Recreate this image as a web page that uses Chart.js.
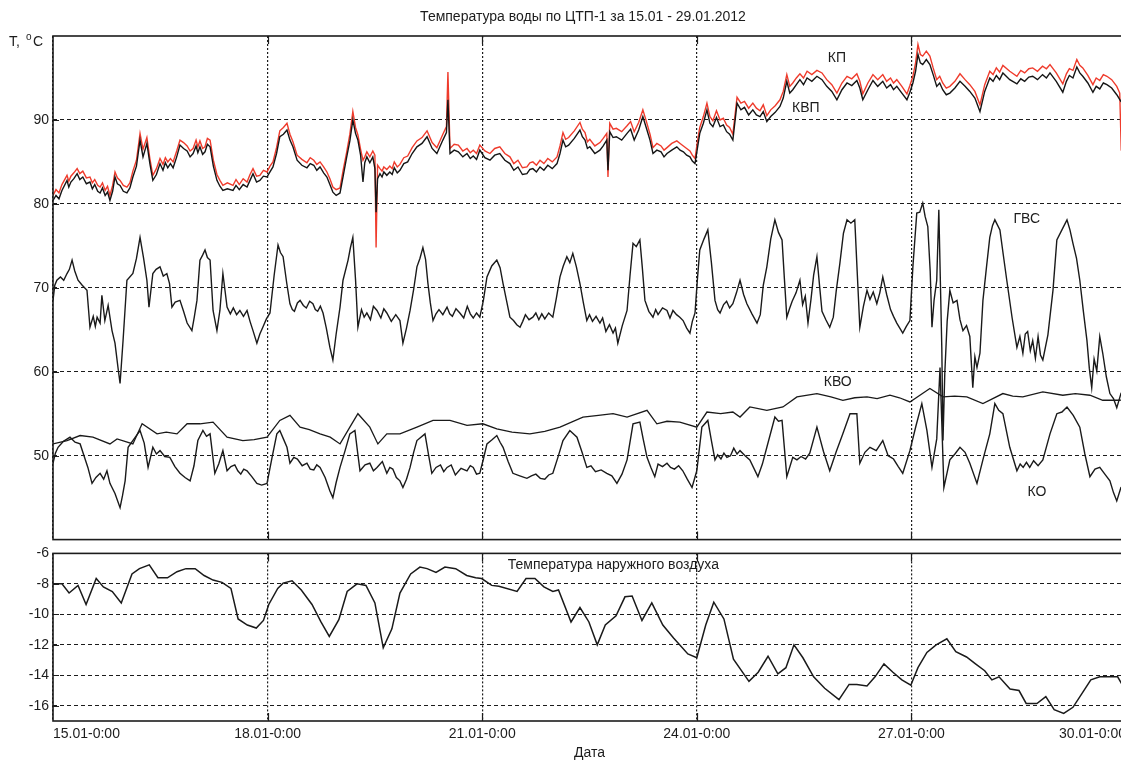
<!DOCTYPE html>
<html>
<head>
<meta charset="utf-8">
<script src="https://cdn.jsdelivr.net/npm/chart.js@4.4.0/dist/chart.umd.min.js"></script>
<style>
html, body { margin: 0; padding: 0; background: #fff; overflow: hidden; width: 1121px; height: 762px; }
#topChart { position: absolute; left: 0; top: 0; }
#airChart { position: absolute; left: 0; top: 541px; }
</style>
</head>
<body>
<canvas id="topChart" width="1140" height="552"></canvas>
<canvas id="airChart" width="1140" height="221"></canvas>
<script>
// Hours since 15.01 0:00, x axis 0..360
const dayTicks = [0, 72, 144, 216, 288, 360];
const dayLabels = ['15.01-0:00', '18.01-0:00', '21.01-0:00', '24.01-0:00', '27.01-0:00', '30.01-0:00'];
const waterTicks = [50, 60, 70, 80, 90];
const airTicks = [-16, -14, -12, -10, -8, -6];

// КВП (black, upper pair)
const kvpHours = [0,1,2,3,4.7,5.3,6,7,8.1,9,10,11.2,12.4,13.2,14,15,15.8,16.6,17.5,18.3,19.1,20,20.8,21.6,22.5,23.6,24.8,25.8,26.8,28,29.2,30.2,31.5,32.5,33.5,34.7,35.9,36.9,37.7,38.5,39.4,40.3,41.5,42.6,43.8,45,46,47,48,48.6,49.3,50.2,51,51.8,52.7,53.8,55,56,57,58.5,60.4,61.4,62.5,63.8,65.1,66.1,67.1,68.3,69.4,70.6,71.8,72.8,73.8,75,76.1,77.3,78.5,79.5,80.5,81.9,83.5,85.2,86.3,87.5,88.5,89.6,90.8,91.9,92.9,93.9,95,96.3,97.4,98.5,99.6,100.6,101.5,102.3,103.2,104,104.6,105.3,106.3,107.3,108,108.4,108.9,109.7,110.4,111,112,113,113.8,114.5,115.5,
  116.4,117.7,119,120.5,122.1,123.8,125.5,127.2,128.8,129.8,130.8,132,132.5,133.2,134.6,136,137.5,138.9,140,141,142.1,143.2,144.9,146.6,148.2,149.9,151.6,153.3,154.6,156,157.5,159,160,161,162.2,163.4,164.7,166,167.5,169.1,170.1,171.1,172,173,174.9,176.8,177.6,178.5,179.3,180.1,181.8,183.5,184.6,185.8,186.2,186.8,187.9,189,190.8,192.6,193.8,195,196.5,197.9,199.1,200.3,201.3,202.6,204,205,206,207.6,209.3,210.4,211.5,212.6,213.7,214.5,215.4,216.2,217,218.2,219.4,220.4,221.4,222.6,223.8,224.9,226,227,228.1,229.5,230.8,232,233.4,234.8,236,237.2,238.3,239.5,240.8,242.3,243.9,245,246.2,247.2,248.2,249.4,250.6,251.8,
  253,254.6,256.3,258,259.6,261.3,263,264.7,266.4,268,269.7,270.7,271.7,273.4,275.1,276.7,278.4,279.7,281,282,283.1,284.8,286.5,287.5,288.5,289.4,290.2,291,291.8,293,294.2,295.3,296.5,297.5,298.5,299.7,300.9,302.6,304.3,306,307.6,309.3,311,312.6,314.3,315.4,316.5,317.6,318.7,321,323.4,324.7,326,327.4,328.7,330.3,332,333.3,334.5,336.6,338.8,340,341,342.2,343.5,344.5,345.5,347.2,348.9,350,351.2,352.4,353.6,355.2,356.9,358.3,360];
const kvpValues = [80.4,81.0,80.6,81.6,82.8,82.0,82.6,83.0,83.6,82.9,83.2,82.4,82.6,81.8,82.3,81.5,81.3,81.9,81.0,81.4,80.4,81.5,83.2,82.4,82.2,81.5,81.3,81.9,83.2,84.5,87.6,85.6,87.2,84.8,82.8,83.5,84.8,84.0,84.9,84.3,84.8,84.3,85.6,87.0,86.6,86.3,85.6,86.0,86.9,86.1,86.8,85.9,86.2,87.1,86.8,84.5,82.8,82.1,81.6,81.8,81.6,82.2,81.7,82.3,82.0,82.8,83.6,82.6,82.8,83.3,83.2,83.8,84.4,86.0,88.0,88.3,88.8,87.6,86.8,85.2,84.6,84.3,84.8,84.6,84.0,84.4,83.7,83.2,82.3,81.4,81.0,81.3,83.4,85.5,87.5,90.0,88.4,87.6,85.8,82.6,84.9,85.6,84.9,85.6,84.2,79.0,83.0,83.6,83.2,83.8,83.4,83.8,83.5,84.3,83.7,
  84.0,84.8,85.0,86.0,86.8,87.2,88.0,86.6,86.0,86.8,87.6,88.5,92.4,86.0,86.4,86.2,85.6,86.0,85.4,85.7,85.3,86.4,85.5,85.2,85.8,86.0,85.2,84.8,84.0,84.4,83.5,83.6,84.1,84.2,83.8,84.4,84.0,84.6,84.2,84.8,86.0,87.6,86.8,87.0,87.8,88.8,88.0,87.6,86.6,86.8,86.0,86.4,86.9,87.6,84.0,88.6,87.9,88.0,87.6,88.4,88.9,87.6,88.8,90.4,89.0,87.6,86.0,86.4,86.2,85.6,86.0,86.4,86.8,86.4,86.2,85.8,85.6,85.1,84.8,86.6,88.4,89.6,91.2,89.6,89.2,90.3,89.2,89.4,88.6,88.3,87.6,92.0,91.2,91.5,90.6,91.2,90.6,90.4,91.0,89.8,90.4,90.9,91.6,92.6,94.6,93.2,93.6,94.2,94.8,94.2,
  95.0,94.6,95.2,94.8,94.0,93.4,92.4,93.6,94.4,94.1,94.7,93.8,92.4,93.6,94.7,94.0,94.6,93.8,94.2,93.6,94.0,93.2,92.4,93.3,94.4,95.8,97.8,96.8,96.6,97.2,96.6,95.4,94.0,94.4,93.6,93.0,93.2,93.8,94.6,94.0,93.4,92.6,91.0,93.4,95.0,94.6,95.3,94.8,95.6,94.8,94.3,94.9,94.6,95.1,95.2,94.8,95.4,95.0,95.6,94.6,93.3,94.6,95.3,95.0,96.3,95.6,95.2,94.4,93.3,94.0,93.7,94.4,94.2,93.8,93.0,92.2,91.8];

// КП (red)
const kpHours = [0,1,2,3,4.7,5.3,6,7,8.1,9,10,11.2,12.4,13.2,14,15,15.8,16.6,17.5,18.3,19.1,20,20.8,21.6,22.5,23.6,24.8,25.8,26.8,28,29.2,30.2,31.5,32.5,33.5,34.7,35.9,36.9,37.7,38.5,39.4,40.3,41.5,42.6,43.8,45,46,47,48,48.6,49.3,50.2,51,51.8,52.7,53.8,55,56,57,58.5,60.4,61.4,62.5,63.8,65.1,66.1,67.1,68.3,69.4,70.6,71.8,72.8,73.8,75,76.1,77.3,78.5,79.5,80.5,81.9,83.5,85.2,86.3,87.5,88.5,89.6,90.8,91.9,92.9,93.9,95,96.3,97.4,98.5,99.6,100.6,101.5,102.3,103.2,104,104.6,105.3,106.3,107.3,108,108.4,108.9,109.7,110.4,111,112,113,113.8,114.5,115.5,
  116.4,117.7,119,120.5,122.1,123.8,125.5,127.2,128.8,129.8,130.8,132,132.5,133.2,134.6,136,137.5,138.9,140,141,142.1,143.2,144.9,146.6,148.2,149.9,151.6,153.3,154.6,156,157.5,159,160,161,162.2,163.4,164.7,166,167.5,169.1,170.1,171.1,172,173,174.9,176.8,177.6,178.5,179.3,180.1,181.8,183.5,184.6,185.8,186.2,186.8,187.9,189,190.8,192.6,193.8,195,196.5,197.9,199.1,200.3,201.3,202.6,204,205,206,207.6,209.3,210.4,211.5,212.6,213.7,214.5,215.4,216.2,217,218.2,219.4,220.4,221.4,222.6,223.8,224.9,226,227,228.1,229.5,230.8,232,233.4,234.8,236,237.2,238.3,239.5,240.8,242.3,243.9,245,246.2,247.2,248.2,249.4,250.6,251.8,
  253,254.6,256.3,258,259.6,261.3,263,264.7,266.4,268,269.7,270.7,271.7,273.4,275.1,276.7,278.4,279.7,281,282,283.1,284.8,286.5,287.5,288.5,289.4,290.2,291,291.8,293,294.2,295.3,296.5,297.5,298.5,299.7,300.9,302.6,304.3,306,307.6,309.3,311,312.6,314.3,315.4,316.5,317.6,318.7,321,323.4,324.7,326,327.4,328.7,330.3,332,333.3,334.5,336.6,338.8,340,341,342.2,343.5,344.5,345.5,347.2,348.9,350,351.2,352.4,353.6,355.2,356.9,357.9,358.4,360];
const kpValues = [81.0,81.7,81.3,82.3,83.4,82.7,83.3,83.7,84.2,83.6,83.9,83.1,83.2,82.5,82.9,82.2,82.0,82.5,81.6,82.1,81.0,82.2,83.8,83.1,82.8,82.2,82.0,82.5,83.9,85.2,88.4,86.5,87.9,85.4,83.4,84.2,85.4,84.7,85.5,85.0,85.4,85.0,86.3,87.6,87.3,86.9,86.3,86.6,87.6,86.8,87.5,86.6,86.8,87.8,87.6,85.2,83.5,82.8,82.2,82.5,82.2,82.9,82.3,83.0,82.6,83.5,84.2,83.3,83.4,84.0,83.8,84.5,85.0,86.7,88.7,89.1,89.6,88.3,87.4,85.8,85.3,84.9,85.5,85.2,84.7,85.0,84.4,83.8,83.0,82.0,81.7,81.9,84.1,86.1,88.3,91.0,89.1,88.2,86.5,85.2,85.6,86.2,85.6,86.3,85.8,74.8,84.6,84.2,83.9,84.4,84.1,84.5,84.2,85.0,84.4,
  84.7,85.5,85.7,86.7,87.5,87.9,88.7,87.3,86.7,87.5,88.3,89.2,95.7,86.6,87.1,87.0,86.3,86.6,86.1,86.4,86.0,87.0,86.3,86.0,86.6,86.8,86.0,85.6,84.8,85.2,84.3,84.4,84.9,85.0,84.6,85.2,84.8,85.4,85.0,85.6,86.9,88.5,87.7,87.9,88.7,89.7,88.9,88.5,87.4,87.7,86.9,87.3,87.8,88.4,83.2,89.6,88.9,89.0,88.6,89.3,89.8,88.6,89.7,91.2,89.8,88.3,86.7,87.2,86.9,86.4,86.7,87.2,87.5,87.2,86.9,86.6,86.3,85.8,85.4,87.4,89.1,90.4,92.0,90.4,89.9,91.1,90.0,90.2,89.4,89.1,88.3,92.7,92.0,92.2,91.4,92.0,91.4,91.1,91.8,90.5,91.2,91.7,92.4,93.4,95.4,94.0,94.4,95.0,95.5,95.0,
  95.8,95.4,95.9,95.6,94.8,94.2,93.2,94.4,95.2,94.9,95.5,94.6,93.1,94.4,95.4,94.8,95.4,94.6,95.0,94.4,94.8,94.0,93.1,94.1,95.2,96.8,99.0,97.8,97.6,98.2,97.6,96.2,94.8,95.2,94.4,93.8,94.0,94.6,95.5,94.8,94.2,93.4,91.8,94.2,95.8,95.4,96.2,95.7,96.5,95.8,95.2,95.9,95.6,96.1,96.2,95.8,96.4,96.1,96.6,95.6,94.3,95.5,96.1,95.9,97.2,96.5,96.2,95.3,94.2,95.0,94.7,95.4,95.2,94.8,94.0,93.2,86.4,86.0];

// ГВС
const gvsHours = [0,0.6,1.3,2.5,3.6,4.7,5.5,6.4,7.3,8.4,9.8,11.4,12.4,13.5,14.2,14.8,15.8,16.4,17.4,18.5,19.8,20.8,21.8,22.5,23.5,24.8,26.8,28,29.2,30.4,31.5,32.2,33.5,34.6,35.9,37,38.2,39.1,39.9,41,42.6,43.8,45,46.6,47.4,48.3,49.3,50.2,51,51.8,52.7,53.7,55,56,57,58.4,59.5,60.5,61.6,62.7,63.9,65.1,66.1,67.1,68.4,69.4,70.4,71.6,72.8,74.2,75.5,76.3,77.2,78.4,79.5,80.3,81,82,82.9,84,85,86.1,87.2,88,88.8,89.7,90.6,91.7,92.9,93.9,95,96.3,97.3,99,99.8,100.6,101.5,102.3,103.5,104.4,105.3,106.5,107.5,108.7,110,111,112,113.5,115,
  116.4,117.4,118.6,119.8,121,122.1,123.1,124.1,125,125.8,126.6,127.5,128.5,129.5,130.8,132.2,133.1,134,135.2,136.5,137.8,139,140,141,142.1,143.2,144.4,145.6,147.2,148.9,150,151,152.2,153.3,154.5,155.6,156.7,157.6,158.5,159.7,161,162,163,164,165,166.3,167.7,168.9,170.1,171.2,172.4,173.4,174.4,175.6,176.8,177.9,179.1,180,181,182.2,183.5,184.4,185.5,186.7,187.9,188.7,189.5,191,192.6,193.6,194.6,195.7,196.9,197.7,198.6,199.9,201.3,202.2,203,204.5,206,207,208,209.2,210.3,211.4,212.6,213.7,214.5,215.4,216.2,217,218.4,219.7,220.9,222.1,223,223.8,225,226,227,228.1,229.3,230.5,231.7,232.8,234.5,236.2,237.3,238.3,239.5,240.8,242.2,243.4,244.6,245.4,246.2,247.1,248,249.3,250.6,251.5,252.4,253.3,254.3,255.2,256.3,257.2,258,259.3,260.6,261.8,262.8,264,265.2,266.4,267.7,269,269.8,270.7,271.9,273.1,274.1,275.2,276.4,277.4,278.4,279.7,281,282,283.1,284.1,285.1,286.3,287.5,
  288.5,289.8,290.8,291.8,292.6,293.5,294.3,294.9,295.6,296.5,297.2,298.2,298.6,299.2,300,300.9,302,303.3,304.3,305.3,306.5,307.6,308.6,309.3,310,311,312,313.2,314.3,315.2,316,317.7,318.8,320,321.8,323.4,324.4,325.4,326.2,327,327.9,328.7,329.6,330.5,331.3,332.1,333.8,335.5,336.8,338.5,340.2,341.2,342.2,343.4,344.5,345.7,346.9,347.7,348.5,349.3,350.2,351.2,352.2,353.4,354.6,355.8,356.9,358.3,360];
const gvsValues = [68.5,70.3,70.9,71.3,70.9,71.7,72.2,73.3,72.0,70.9,70.3,69.7,65.3,66.6,65.4,66.5,65.8,69.1,66.1,67.9,64.9,63.4,60.5,58.6,63.7,70.9,71.7,73.5,76.0,73.5,70.9,67.7,71.7,72.2,72.5,71.4,71.7,70.5,67.7,68.3,68.5,67.2,65.8,64.9,66.5,68.5,73.3,73.9,74.5,73.6,73.3,67.3,64.9,67.3,71.7,67.7,66.9,67.6,66.8,67.3,66.6,67.3,66.0,64.9,63.4,64.5,65.3,66.3,67.0,71.5,75.1,74.2,73.7,70.6,68.1,67.4,67.2,68.2,68.5,67.9,67.6,68.4,68.1,67.4,67.2,67.8,67.0,65.2,62.9,61.4,64.5,67.7,70.9,73.3,74.8,76.0,71.0,65.3,67.4,66.5,67.0,66.2,67.8,67.3,66.4,67.5,67.0,66.0,66.8,
  66.1,63.4,65.2,67.3,69.8,72.5,73.5,74.8,73.4,70.5,68.2,66.1,66.9,67.4,66.8,67.7,66.9,66.6,67.5,67.0,66.4,67.8,66.9,66.4,67.0,66.5,68.5,71.3,72.6,73.3,72.4,70.5,68.4,66.5,66.1,65.6,65.3,66.0,66.8,66.2,66.5,67.0,66.2,66.9,66.3,67.0,66.5,68.8,71.3,72.6,73.7,73.0,74.1,72.5,70.5,68.3,66.1,66.8,66.0,66.6,65.8,66.4,64.8,65.6,64.6,65.2,63.4,65.5,67.3,71.5,75.3,74.9,75.7,72.5,68.5,67.2,66.5,67.4,66.8,67.6,67.3,66.4,67.3,66.8,66.5,66.1,65.2,64.6,66.0,67.0,71.0,74.5,75.8,76.9,73.0,68.5,67.4,67.0,68.0,68.4,67.6,68.1,69.4,70.9,69.2,68.1,66.9,65.8,66.8,70.3,72.5,75.8,78.1,76.6,75.7,71.0,66.5,67.5,68.4,69.4,70.9,68.0,69.0,65.8,68.6,71.5,73.7,70.2,67.2,66.2,65.3,66.5,69.7,72.9,76.5,78.1,77.7,78.1,72.0,65.3,67.8,69.7,68.6,69.5,68.1,69.4,71.3,69.2,67.4,66.6,65.8,65.2,64.6,65.4,66.1,
  72.5,78.9,79.0,80.1,78.5,77.3,72.0,65.3,68.5,70.9,79.3,62.9,51.8,59.8,66.0,69.7,68.2,68.5,66.2,64.9,65.5,64.2,58.1,61.8,60.5,62.2,68.5,72.5,76.0,77.4,78.1,76.9,74.0,70.9,66.4,62.9,64.2,62.2,64.5,64.8,62.5,63.7,61.6,64.2,62.0,61.4,64.4,69.7,75.7,76.9,78.1,76.9,75.3,73.5,70.9,67.2,63.7,60.4,58.1,61.5,60.1,64.2,62.2,59.4,57.4,56.8,55.7,57.4,57.0];

// КВО
const kvoHours = [0,4.7,9.1,13.4,19.1,21.5,26.8,29.9,34.9,38,41.6,45,49.3,53.7,58.4,63.7,67.5,71.8,76.1,79.5,82.9,86,89.6,93,96.3,99.6,102.3,106.3,109,112,116.4,122.1,127.5,133.2,138.9,144.2,148.9,154,160,165,170.1,177.8,183,187.9,192.6,199.3,202.6,206,210.3,216,219.4,224,228.1,230.5,233.8,239.5,244.9,249.6,256.3,261,265,269,273.1,276.5,280.8,284,287.5,294.2,298.6,302.5,306.6,312,318.7,322,325.4,332.1,338.8,343,347.9,352.2,357.9,360];
const kvoValues = [51.4,51.8,52.4,52.2,51.4,52.0,51.4,53.8,52.6,52.8,52.6,53.8,53.8,54.0,52.2,51.8,51.9,52.2,54.2,54.8,53.4,53.1,52.6,52.2,51.4,53.4,55.0,53.4,51.4,52.6,52.6,53.4,54.2,54.2,53.6,53.8,53.2,52.8,52.6,52.9,53.4,54.6,54.8,55.0,54.6,55.4,53.8,54.1,54.0,53.4,55.2,55.0,55.2,54.6,55.8,55.4,55.8,57.0,57.4,57.0,56.6,56.9,57.0,56.8,57.2,56.9,56.4,58.0,57.0,57.1,57.0,56.2,57.4,57.1,57.0,57.6,57.2,57.4,57.2,56.6,56.6,56.8];

// КО
const koHours = [0,0.8,1.7,3.5,5.7,7.4,9.1,10.4,11.7,13.1,14.4,15.8,17,18.1,19.1,20.8,22.5,23.3,24.2,25.2,27.2,29.2,30.6,31.9,33.5,34.7,35.9,37.5,39.2,40.9,42.6,44.3,46,47.3,48.6,50.3,51.5,52.7,54.3,55.6,57,58.4,59.7,61,62,63,64,65.1,66.7,68.4,70,71.8,73.5,75.1,76.1,77.3,78.5,79.5,80.8,82,83.6,85.2,86.3,87.5,88.5,89.6,91.3,92.9,93.9,95,96.3,98,99.6,101.3,102.2,103,104.7,106.3,107.5,108.7,110.5,112,113,114,115.2,
  116.4,117.4,118.6,119.8,121,122.1,124.8,126,127.1,128.5,130,131.1,132.2,133.6,135,136.9,138.9,140,141,142.1,143.2,144.4,145.6,147.3,148.9,150,151,152.7,154.3,156.6,159,160.5,162,163.5,165,166.3,167.7,169.4,171.1,173.4,175.8,177.5,179.1,180.5,182,183.9,185.8,187.5,189.2,190.9,192.6,194.6,196.9,198,199.3,200.6,201.9,203,204.5,206,207.2,208.5,209.9,211.3,212.8,214.4,216,217.7,219.7,220.9,222.1,223,224.1,225.1,226.1,227.3,228.4,229.5,230.5,232.2,233.8,236.5,238,239.5,242.2,243.4,244.6,246.2,248.2,249.6,251,252.5,253.9,256.3,258.5,260.6,262.8,265,267.4,269.7,270.7,272.4,274.1,276.2,278.4,280.2,282,283.6,285.1,
  287.5,289.5,291.5,293.2,294.9,296.5,297.6,298.9,300.9,302.6,304.3,306,307.6,310,312.2,314.3,316,317.3,318.7,321,323.4,324.5,325.5,326.6,327.7,329,330.5,332.1,334.5,336.8,338.5,340.2,342.3,344.5,346.2,347.9,349.6,351.2,352.9,354.6,355.8,356.9,358.3,360];
const koValues = [49.1,50.3,51.0,51.7,52.2,51.6,51.4,50.0,48.6,46.7,47.4,47.9,47.2,48.2,46.7,45.5,43.8,45.2,47.0,51.0,52.0,53.0,51.5,48.6,51.0,50.2,50.6,49.9,49.8,48.7,47.9,47.4,47.0,48.8,51.8,53.0,52.3,52.6,47.9,49.0,50.6,48.2,48.7,48.9,48.2,47.8,48.4,48.2,47.5,46.7,46.5,46.7,49.8,52.6,53.0,52.0,51.0,49.1,49.8,49.6,48.8,49.1,48.4,48.3,48.9,48.6,47.4,45.8,45.0,46.8,48.6,50.6,52.6,53.0,50.4,48.2,48.9,49.1,48.2,48.6,49.3,47.9,48.6,48.4,47.4,
  47.0,46.2,47.2,48.6,50.4,51.8,52.6,50.1,47.9,48.6,48.9,48.1,48.6,48.9,47.7,48.5,48.2,48.8,48.6,47.8,47.9,49.6,51.4,51.9,52.4,51.6,51.0,49.3,47.9,47.6,47.3,47.6,47.8,47.3,47.2,47.7,47.9,49.8,51.8,53.0,52.2,50.4,48.6,48.8,48.1,48.3,47.9,47.6,46.7,47.8,49.5,53.8,54.0,52.0,49.8,48.6,47.5,49.0,48.7,49.1,48.6,48.4,48.8,48.2,47.2,46.2,48.2,53.4,54.2,51.8,49.5,50.1,49.6,50.3,49.8,50.0,50.9,50.2,50.6,50.0,49.5,47.5,49.0,51.0,54.6,54.1,54.2,47.5,49.8,49.5,49.9,49.6,50.3,53.4,50.5,48.2,50.5,52.6,55.0,55.0,49.1,50.4,51.0,50.6,51.8,50.0,49.6,48.7,47.9,
  50.6,53.5,56.2,53.0,48.6,52.0,60.5,46.2,49.5,50.2,51.0,50.4,49.1,46.7,49.8,52.6,56.2,55.4,55.0,51.0,48.2,49.0,48.6,49.2,48.6,49.4,48.8,49.5,52.6,55.0,55.2,55.8,54.8,53.4,50.2,47.5,48.4,48.6,47.8,47.0,45.6,44.6,46.2,46.5];

// Outdoor air temperature
const airHours = [0,3,5.4,8.4,11.1,14.5,16.9,19.9,22.9,26.5,29,32.3,35.2,38.4,41.6,44.6,47.7,50.7,53.7,56.7,59.7,62.1,65.2,68.2,70.6,72.4,75.4,77.2,80.2,83.3,86.9,89.9,92.7,95.9,98.7,102,105,108,110.8,113.7,116.4,120,123.1,125.5,128.5,131.5,135.1,138.8,141.8,143.8,147.2,149.6,155.7,158.7,161.7,164.7,167.7,169.6,
  173.8,176.8,179.8,182.6,185.3,188.9,191.9,194.3,197.6,200.9,204.6,208.2,213,216,219,221.7,225.1,228.3,233.5,236.6,239.9,243.2,245.9,248.6,251.6,255.2,258.9,263.7,267.1,269.7,273.1,275.8,278.8,281.8,284.8,287.8,290.2,293.2,296.3,299.9,302.9,306.5,309.5,312.6,315,317.4,321.1,324.1,326.5,330.1,333.1,335.9,339.1,342.2,345.2,348.2,351.2,354.2,357.2,358.8,360];
const airValues = [-8.0,-8.0,-8.6,-8.1,-9.35,-7.65,-8.2,-8.5,-9.25,-7.35,-7.0,-6.75,-7.6,-7.6,-7.2,-7.0,-7.0,-7.45,-7.75,-7.9,-8.3,-10.3,-10.7,-10.9,-10.4,-9.35,-8.3,-7.95,-7.8,-8.4,-9.35,-10.5,-11.45,-10.35,-8.5,-8.0,-8.1,-9.25,-12.2,-10.95,-8.6,-7.35,-6.9,-7.0,-7.25,-6.9,-7.0,-7.45,-7.6,-7.65,-8.1,-8.15,-8.5,-7.65,-7.65,-8.2,-8.5,-8.4,
  -10.5,-9.55,-10.5,-12.0,-10.7,-10.1,-8.85,-8.8,-10.4,-9.25,-10.7,-11.55,-12.6,-12.85,-10.7,-9.2,-10.3,-12.95,-14.4,-13.8,-12.75,-13.9,-13.5,-12.0,-12.85,-14.1,-14.85,-15.6,-14.6,-14.6,-14.7,-14.1,-13.25,-13.8,-14.3,-14.65,-13.5,-12.5,-12.0,-11.6,-12.45,-12.8,-13.25,-13.7,-14.3,-14.1,-14.9,-15.0,-15.85,-15.85,-15.4,-16.25,-16.5,-16.1,-15.2,-14.3,-14.1,-14.1,-14.1,-14.65,-14.7];

const FONT = "'Liberation Sans', Arial, sans-serif";
const INK = '#1c1c1c';

function toPoints(hours, values) {
    return hours.map((h, i) => ({ x: h, y: values[i] }));
}

function lineSet(label, hours, values, color, width, order) {
    return {
        label: label,
        data: toPoints(hours, values),
        borderColor: color,
        borderWidth: width,
        pointRadius: 0,
        tension: 0,
        fill: false,
        order: order
    };
}

// frame, inward tick marks and in-plot texts
const decorPlugin = {
    id: 'decor',
    afterDatasetsDraw(chart, args, opts) {
        const ctx = chart.ctx;
        const a = chart.chartArea;
        const xs = chart.scales.x;
        const ys = chart.scales.y;
        ctx.save();
        ctx.strokeStyle = INK;
        ctx.lineWidth = 1.2;
        ctx.setLineDash([]);
        ctx.beginPath();
        dayTicks.slice(1, -1).forEach(t => {
            const px = Math.round(xs.getPixelForValue(t)) + 0.5;
            ctx.moveTo(px, a.bottom); ctx.lineTo(px, a.bottom - 8);
            ctx.moveTo(px, a.top); ctx.lineTo(px, a.top + 8);
        });
        opts.yTicks.forEach(t => {
            const py = Math.round(ys.getPixelForValue(t)) + 0.5;
            ctx.moveTo(a.left, py); ctx.lineTo(a.left + 6, py);
        });
        ctx.stroke();
        ctx.lineWidth = 1.6;
        ctx.strokeRect(a.left, a.top, a.right - a.left, a.bottom - a.top);

        ctx.fillStyle = INK;
        ctx.textAlign = 'center';
        ctx.textBaseline = 'middle';
        ctx.font = '14px ' + FONT;
        (opts.notes || []).forEach(n => {
            ctx.fillText(n.text, xs.getPixelForValue(n.h), ys.getPixelForValue(n.v));
        });
        ctx.restore();
    },
    afterDraw(chart, args, opts) {
        if (!opts.title) return;
        const ctx = chart.ctx;
        ctx.save();
        ctx.fillStyle = INK;
        ctx.textBaseline = 'middle';
        ctx.textAlign = 'center';
        ctx.font = '14px ' + FONT;
        ctx.fillText(opts.title, 583, 17);
        // axis unit "T, °C" with raised o
        ctx.textAlign = 'left';
        ctx.textBaseline = 'alphabetic';
        ctx.font = '14px ' + FONT;
        ctx.fillText('T,', 9, 46);
        ctx.font = '10px ' + FONT;
        ctx.fillText('o', 26, 40);
        ctx.font = '14px ' + FONT;
        ctx.fillText('C', 33, 46);
        ctx.restore();
    }
};

function xScale(showLabels) {
    return {
        type: 'linear',
        min: 0,
        max: 360,
        afterBuildTicks: s => { s.ticks = dayTicks.map(v => ({ value: v })); },
        grid: { color: INK, lineWidth: 1.2, drawTicks: false },
        border: { display: false, dash: [2, 2] },
        ticks: {
            display: showLabels,
            align: 'inner',
            padding: 5,
            color: INK,
            font: { family: FONT, size: 14 },
            maxRotation: 0,
            autoSkip: false,
            callback: v => dayLabels[dayTicks.indexOf(v)]
        }
    };
}

function yScale(min, max, tickList) {
    return {
        min: min,
        max: max,
        afterBuildTicks: s => { s.ticks = tickList.map(v => ({ value: v })); },
        afterFit: s => { s.width = 53; },
        grid: { color: INK, lineWidth: 1, drawTicks: false },
        border: { display: false, dash: [4, 3] },
        ticks: {
            padding: 4,
            color: INK,
            font: { family: FONT, size: 14 },
            callback: v => String(v)
        }
    };
}

const topX = xScale(false);
topX.afterFit = s => { s.height = 0; };

new Chart(document.getElementById('topChart'), {
    type: 'line',
    data: {
        datasets: [
            lineSet('КВП', kvpHours, kvpValues, '#151515', 1.4, 1),
            lineSet('КП', kpHours, kpValues, '#ef3b2c', 1.4, 2),
            lineSet('ГВС', gvsHours, gvsValues, '#1a1a1a', 1.4, 3),
            lineSet('КВО', kvoHours, kvoValues, '#1a1a1a', 1.3, 4),
            lineSet('КО', koHours, koValues, '#1a1a1a', 1.4, 5)
        ]
    },
    options: {
        responsive: false,
        animation: false,
        layout: { padding: { top: 36, right: 14, bottom: 2, left: 0 } },
        plugins: {
            legend: { display: false },
            tooltip: { enabled: false },
            decor: {
                yTicks: waterTicks,
                title: 'Температура воды по ЦТП-1 за 15.01 - 29.01.2012',
                notes: [
                    { text: 'КП', h: 263, v: 97.4 },
                    { text: 'КВП', h: 252.6, v: 91.4 },
                    { text: 'ГВС', h: 326.7, v: 78.2 },
                    { text: 'КВО', h: 263.3, v: 58.8 },
                    { text: 'КО', h: 330.1, v: 45.6 }
                ]
            }
        },
        scales: {
            x: topX,
            y: yScale(40, 100, waterTicks)
        }
    },
    plugins: [decorPlugin]
});

const airX = xScale(true);
airX.afterFit = s => { s.height = 41; };
airX.title = { display: true, text: 'Дата', color: INK, font: { family: FONT, size: 14 }, padding: { top: 0, bottom: 0 } };

new Chart(document.getElementById('airChart'), {
    type: 'line',
    data: {
        datasets: [lineSet('Температура наружного воздуха', airHours, airValues, '#1a1a1a', 1.5, 1)]
    },
    options: {
        responsive: false,
        animation: false,
        layout: { padding: { top: 8, right: 14, bottom: 0, left: 0 } },
        plugins: {
            legend: { display: false },
            tooltip: { enabled: false },
            decor: {
                yTicks: airTicks,
                notes: [{ text: 'Температура наружного воздуха', h: 188, v: -6.77 }]
            }
        },
        scales: {
            x: airX,
            y: yScale(-17, -6, airTicks)
        }
    },
    plugins: [decorPlugin]
});
</script>
</body>
</html>
